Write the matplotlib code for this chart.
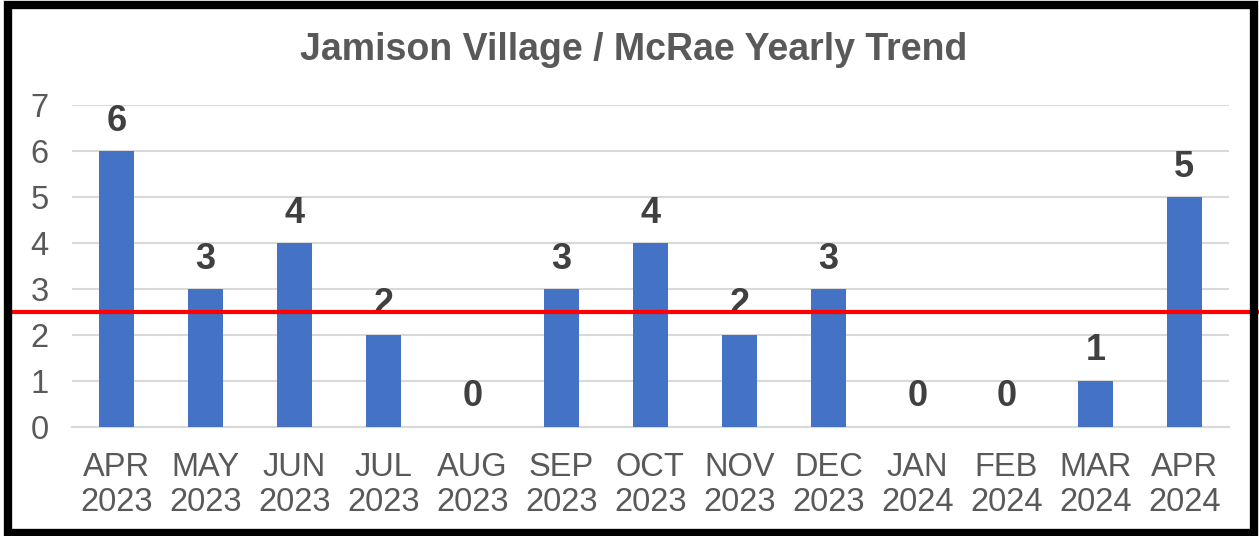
import matplotlib.pyplot as plt
import matplotlib.transforms as mtransforms
from matplotlib.patches import Rectangle

months = ['APR', 'MAY', 'JUN', 'JUL', 'AUG', 'SEP', 'OCT', 'NOV', 'DEC', 'JAN', 'FEB', 'MAR', 'APR']
years = ['2023', '2023', '2023', '2023', '2023', '2023', '2023', '2023', '2023', '2024', '2024', '2024', '2024']
counts = [6, 3, 4, 2, 0, 3, 4, 2, 3, 0, 0, 1, 5]
target = 2.5

plt.rcParams['font.family'] = ['Liberation Sans', 'DejaVu Sans']

fig = plt.figure(figsize=(12.59, 5.36), dpi=100)
ax = fig.add_axes([0.0572, 0.2034, 0.9188, 0.6006])

x = list(range(len(counts)))
labels = [m + '\n' + y for m, y in zip(months, years)]
ax.bar(x, counts, width=0.39, color='#4472C4', zorder=3)

for xi, v in zip(x, counts):
    ax.annotate(str(v), (xi, v), xytext=(0, 9), textcoords='offset points',
                ha='center', va='bottom', fontsize=26, fontweight='bold', color='#404040')

ax.set_xlim(-0.5, len(counts) - 0.5)
ax.set_ylim(0, 7)
ax.set_yticks(range(8))
ax.set_xticks(x)
ax.set_xticklabels(labels, linespacing=1.15)
ax.tick_params(axis='both', length=0, labelsize=23.5, colors='#595959')
ax.tick_params(axis='x', pad=18)
ax.tick_params(axis='y', pad=30)
for lbl in ax.get_yticklabels():
    lbl.set_horizontalalignment('left')
ax.grid(axis='y', color='#D9D9D9', linewidth=1.5, zorder=0)
for s in ['top', 'right', 'left']:
    ax.spines[s].set_visible(False)
ax.spines['bottom'].set_color('#D9D9D9')
ax.spines['bottom'].set_linewidth(1.5)

fig.text(0.503, 0.907, 'Jamison Village / McRae Yearly Trend', ha='center', va='center',
         fontsize=27, fontweight='bold', color='#595959')

# red target line across the whole chart area
trans = mtransforms.blended_transform_factory(fig.transFigure, ax.transData)
ax.plot([0.008, 1.0], [target, target], color='#FF0000', linewidth=3,
        transform=trans, clip_on=False, zorder=5)

# black frame
fig.patches.append(Rectangle((0.006, 0.006), 0.99, 0.985, transform=fig.transFigure,
                             fill=False, edgecolor='black', linewidth=6))

fig.savefig('out.png', dpi=100)
